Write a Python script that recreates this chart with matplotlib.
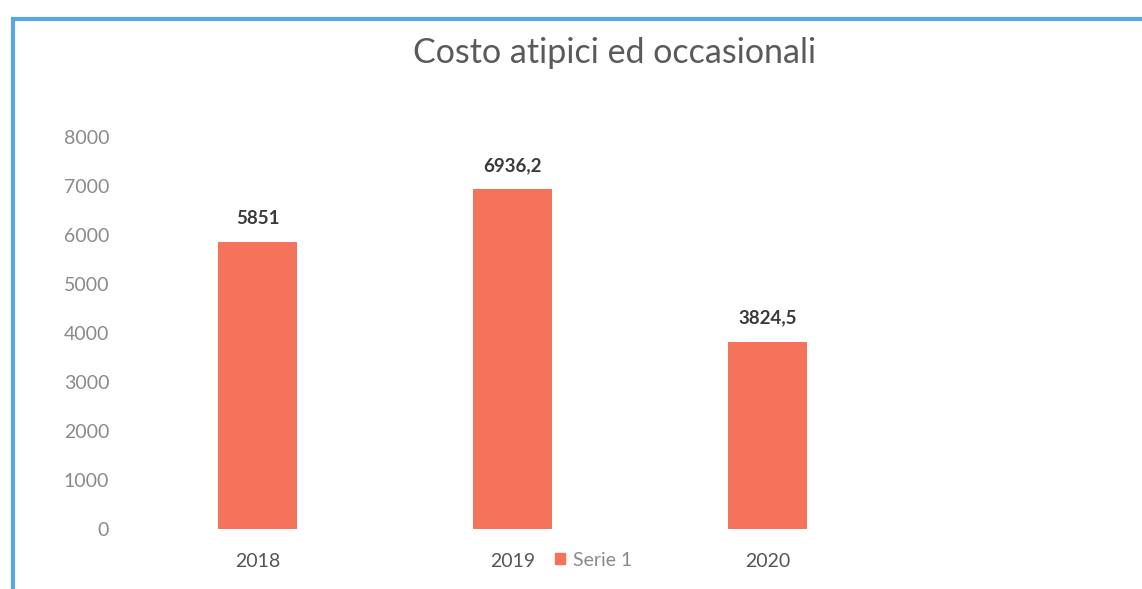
import matplotlib.pyplot as plt
from matplotlib.patches import Rectangle, Patch

# ---------------------------------------------------------------------------
# Data
# ---------------------------------------------------------------------------
categories = ["2018", "2019", "2020", ""]
values = [5851, 6936.2, 3824.5, None]
value_labels = ["5851", "6936,2", "3824,5", ""]
y_ticks = [0, 1000, 2000, 3000, 4000, 5000, 6000, 7000, 8000]
title = "Costo atipici ed occasionali"
series_name = "Serie 1"

BAR_COLOR = "#F4735A"
TEXT_GRAY = "#8a8a8a"
DARK = "#3a3a3a"

plt.rcParams["font.family"] = ["Lato", "DejaVu Sans"]

W, H = 1142, 589
fig = plt.figure(figsize=(W / 100, H / 100), dpi=100)
fig.patch.set_facecolor("white")

# blue chart frame (right/bottom edges fall outside the scan)
fig.add_artist(Rectangle((13 / W, -0.05), 1.1, 1 - 19 / H + 0.05,
                         transform=fig.transFigure, fill=False,
                         edgecolor="#5DA5E2", linewidth=3))

# plot area: 4 category slots, last one empty and cut off at the right
ax = fig.add_axes([130 / W, (H - 529) / H, 1020 / W, (529 - 137) / H])
ax.set_facecolor("none")

xs = [i for i, v in enumerate(values) if v is not None]
vals = [v for v in values if v is not None]
bars = ax.bar(xs, vals, width=0.31, color=BAR_COLOR, zorder=2)

for x, v, lab in zip(xs, vals, value_labels):
    ax.annotate(lab, (x, v), xytext=(0, 11), textcoords="offset points",
                ha="center", va="bottom", fontsize=13.5, fontweight="bold",
                color=DARK)

ax.set_xlim(-0.5, 3.5)
ax.set_ylim(0, 8000)
ax.set_yticks(y_ticks)
ax.set_yticklabels([str(t) for t in y_ticks], fontsize=14, color=TEXT_GRAY)
ax.set_xticks(range(len(categories)))
ax.set_xticklabels(categories, fontsize=14, color="#555555")
ax.tick_params(axis="y", length=0, pad=15)
ax.tick_params(axis="x", length=0, pad=17)
for side in ["top", "right", "left", "bottom"]:
    ax.spines[side].set_visible(False)

fig.text(615 / W, 1 - 53 / H, title, ha="center", va="center",
         fontsize=24.5, color="#5a5a5a")

fig.legend(handles=[Patch(color=BAR_COLOR, label=series_name)],
           loc="center left", bbox_to_anchor=(545 / W, 1 - 560 / H),
           frameon=False, fontsize=14, handlelength=0.55, handleheight=0.55,
           handletextpad=0.4, labelcolor=TEXT_GRAY, borderpad=0)

fig.savefig("out.png", dpi=100)
